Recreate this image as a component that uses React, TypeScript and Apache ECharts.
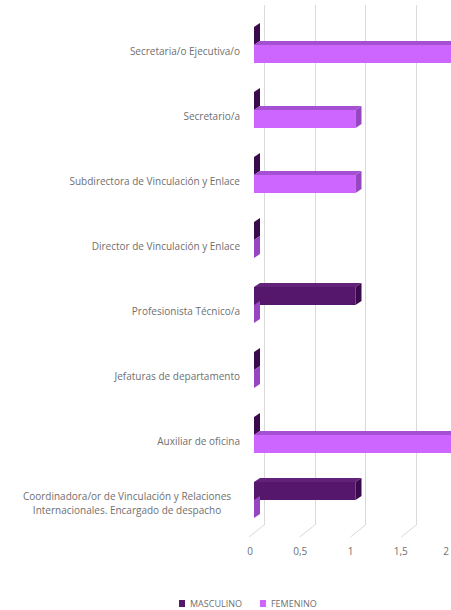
import React, { useEffect, useRef } from "react";
import * as echarts from "echarts";

const categories = [
  "Secretaria/o Ejecutiva/o",
  "Secretario/a",
  "Subdirectora de Vinculación y Enlace",
  "Director de Vinculación y Enlace",
  "Profesionista Técnico/a",
  "Jefaturas de departamento",
  "Auxiliar de oficina",
  "Coordinadora/or de Vinculación y Relaciones\nInternacionales. Encargado de despacho",
];
const masculino = [0, 0, 0, 0, 1, 0, 0, 1];
const femenino = [2, 1, 1, 0, 0, 0, 2, 0];
const xTicks = [0, 0.5, 1, 1.5, 2];

const FONT = "'Open Sans', 'Liberation Sans', sans-serif";
const TEXT = "#6f6f6f";

const palettes = {
  MASCULINO: { front: "#55176b", top: "#62227a", side: "#3b0a4c" },
  FEMENINO: { front: "#cc66ff", top: "#a54fd2", side: "#9646bf" },
};

function makeRender(which: "MASCULINO" | "FEMENINO") {
  const pal = palettes[which];
  return (params: any, api: any) => {
    const v = api.value(0);
    const ci = api.value(1);
    const s = api.coord([0, ci]);
    const e = api.coord([v, ci]);
    const th = 18;
    const dx = 6;
    const dy = 4;
    const yTop = which === "MASCULINO" ? s[1] - th : s[1];
    const yBot = yTop + th;
    const x0 = s[0];
    const x1 = e[0];
    const children: any[] = [];
    if (x1 - x0 > 0.5) {
      children.push({
        type: "rect",
        shape: { x: x0, y: yTop, width: x1 - x0, height: th },
        style: { fill: pal.front },
      });
      children.push({
        type: "polygon",
        shape: { points: [[x0, yTop], [x0 + dx, yTop - dy], [x1 + dx, yTop - dy], [x1, yTop]] },
        style: { fill: pal.top },
      });
    }
    children.push({
      type: "polygon",
      shape: { points: [[x1, yTop], [x1 + dx, yTop - dy], [x1 + dx, yBot - dy], [x1, yBot]] },
      style: { fill: pal.side },
    });
    return { type: "group", children };
  };
}

export default function App() {
  const ref = useRef<HTMLDivElement>(null);
  useEffect(() => {
    if (!ref.current) return;
    const chart = echarts.init(ref.current, undefined, { renderer: "svg" });
    const option: any = {
      animation: false,
      backgroundColor: "#ffffff",
      grid: [
        { left: 264, width: 203, top: 5, height: 520, outerBoundsMode: "none", containLabel: false },
        { left: 254, width: 203, top: 12.5, height: 520, outerBoundsMode: "none", containLabel: false },
        { left: 250, width: 201, top: 12.5, height: 527.5, outerBoundsMode: "none", containLabel: false },
      ],
      xAxis: [
        {
          gridIndex: 0, type: "value", min: 0, max: 2, interval: 0.5,
          axisLine: { show: false }, axisTick: { show: false }, axisLabel: { show: false },
          splitLine: { show: true, lineStyle: { color: "#d9d9d9", width: 1 } },
        },
        {
          gridIndex: 1, type: "value", min: 0, max: 2, interval: 0.5,
          axisLine: { show: false }, axisTick: { show: false }, axisLabel: { show: false },
          splitLine: { show: false },
        },
        {
          gridIndex: 2, type: "value", min: 0, max: 2, interval: 0.5,
          axisLine: { show: false }, axisTick: { show: false }, splitLine: { show: false },
          axisLabel: {
            show: true, margin: 6, color: TEXT, fontFamily: FONT, fontSize: 10,
            showMaxLabel: true,
            formatter: (v: number) => {
              const s = String(v).replace(".", ",");
              return v === 2 ? `{r|${s}}` : s;
            },
            rich: {
              r: { padding: [0, 10, 0, 0], color: TEXT, fontFamily: FONT, fontSize: 10 },
            },
          },
        },
      ],
      yAxis: [
        { gridIndex: 0, type: "value", min: 0, max: 1, show: false },
        {
          gridIndex: 1, type: "category", inverse: true, data: categories,
          axisLine: { show: false }, axisTick: { show: false }, splitLine: { show: false },
          axisLabel: {
            margin: 14, color: TEXT, fontFamily: FONT, fontSize: 10,
            formatter: (val: string) => {
              const lines = val.split("\n");
              if (lines.length > 1) {
                return lines.map((l, i) => `{${i === 0 ? "c0" : "c"}|${l}}`).join("\n");
              }
              return `{a|${val}}`;
            },
            rich: {
              a: { padding: [12, 0, 0, 0], color: TEXT, fontFamily: FONT, fontSize: 10 },
              c0: { width: 226, align: "center", lineHeight: 18, padding: [10, 0, 0, 0], color: TEXT, fontFamily: FONT, fontSize: 10 },
              c: { width: 226, align: "center", lineHeight: 18, padding: [2, 0, 0, 0], color: TEXT, fontFamily: FONT, fontSize: 10 },
            },
          },
        },
        { gridIndex: 2, type: "value", min: 0, max: 1, show: false },
      ],
      legend: {
        left: 174, top: 594, itemWidth: 6, itemHeight: 7, itemGap: 18,
        textStyle: { color: TEXT, fontFamily: FONT, fontSize: 9 },
        data: [
          { name: "MASCULINO", icon: "rect" },
          { name: "FEMENINO", icon: "rect" },
        ],
      },
      series: [
        {
          type: "custom", name: "floor", xAxisIndex: 0, yAxisIndex: 0, silent: true,
          data: xTicks.map((t) => [t, 0]),
          renderItem: (params: any, api: any) => {
            const p = api.coord([api.value(0), 0]);
            return {
              type: "line",
              shape: { x1: p[0], y1: p[1], x2: p[0] - 15, y2: p[1] + 12 },
              style: { stroke: "#d9d9d9", lineWidth: 1 },
            };
          },
        },
        {
          type: "custom", name: "MASCULINO", xAxisIndex: 1, yAxisIndex: 1,
          itemStyle: { color: palettes.MASCULINO.front },
          data: masculino.map((v, i) => [v, i]),
          encode: { x: 0, y: 1 },
          renderItem: makeRender("MASCULINO"),
        },
        {
          type: "custom", name: "FEMENINO", xAxisIndex: 1, yAxisIndex: 1,
          itemStyle: { color: palettes.FEMENINO.front },
          data: femenino.map((v, i) => [v, i]),
          encode: { x: 0, y: 1 },
          renderItem: makeRender("FEMENINO"),
        },
      ],
    };
    chart.setOption(option);
    return () => chart.dispose();
  }, []);
  return (
    <div
      ref={ref}
      style={{ position: "fixed", left: 0, top: 0, width: 451, height: 610, background: "#fff" }}
    />
  );
}
